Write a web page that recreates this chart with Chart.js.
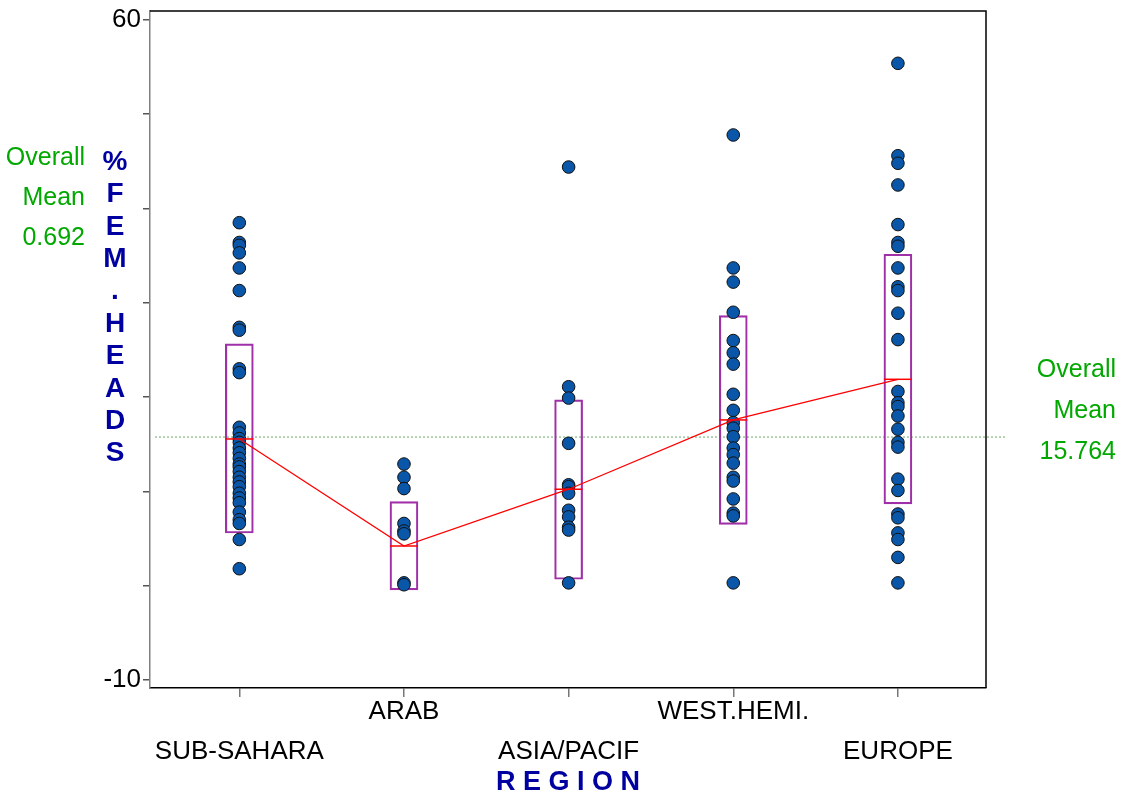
<!DOCTYPE html>
<html>
<head>
<meta charset="utf-8">
<script src="https://cdn.jsdelivr.net/npm/chart.js@4"></script>
<style>
  body { margin: 0; background: #fff; }
  #wrap { width: 1124px; height: 804px; position: relative; }
</style>
</head>
<body>
<div id="wrap"><canvas id="regionChart"></canvas></div>
<script>
// categories (staggered labels: lower row / upper row)
const regions = ['SUB-SAHARA', 'ARAB', 'ASIA/PACIF', 'WEST.HEMI.', 'EUROPE'];
const upperRow = [false, true, false, true, false];

// % female heads per country
const subSahara = [38.5, 36.4, 36.1, 35.3, 33.7, 31.3, 27.4, 27.1, 23.0, 22.6, 16.8, 16.2, 15.6, 15.2,
    14.6, 14.1, 13.5, 12.9, 12.6, 12.1, 11.5, 11.0, 10.5, 9.8, 9.3, 8.8, 7.8, 7.0, 6.6, 4.9, 1.8];
const arab = [12.9, 11.5, 10.3, 6.6, 5.8, 5.5, 0.3, 0.1];
const asiaPacif = [44.4, 21.1, 19.9, 15.1, 10.7, 10.5, 9.8, 8.0, 7.3, 6.2, 5.9, 0.3];
const westHemi = [47.8, 33.7, 32.2, 29.0, 26.0, 24.7, 23.5, 20.3, 18.6, 17.3, 16.7, 15.8, 14.6,
    13.9, 13.0, 11.5, 11.1, 9.2, 7.7, 7.4, 0.3];
const europe = [55.4, 45.6, 44.8, 42.5, 38.3, 36.4, 36.0, 33.7, 31.7, 31.3, 28.9, 26.1, 20.6, 19.4,
    19.0, 18.0, 16.6, 15.2, 14.7, 11.3, 10.1, 7.6, 7.2, 5.6, 4.9, 3.0, 0.3];
const groups = [subSahara, arab, asiaPacif, westHemi, europe];

// group means and box limits (mean +/- 1 sd)
const groupMeans = [15.56, 4.21, 10.23, 17.58, 21.89];
const boxLow = [5.59, -0.45, 0.68, 6.51, 8.67];
const boxHigh = [25.64, 8.91, 19.7, 28.64, 35.15];

const overallMean = 15.764;
const overallLabel = ['Overall', 'Mean', '15.764'];
const leftLabel = ['Overall', 'Mean', '0.692'];
const yTitle = ['%', 'F', 'E', 'M', '.', 'H', 'E', 'A', 'D', 'S'];
const yTicks = [-10, 0, 10, 20, 30, 40, 50, 60];
const yTickLabels = { '-10': '-10', '60': '60' };

const GREEN = '#00a800';
const NAVY = '#0000a0';
Chart.defaults.font.family = '"Liberation Sans", Arial, sans-serif';

const dots = [];
groups.forEach((vals, i) => vals.forEach(v => dots.push({ x: i, y: v })));

const extras = {
    id: 'extras',
    beforeDatasetsDraw(chart) {
        const { ctx, chartArea, scales } = chart;
        const y = scales.y.getPixelForValue(overallMean);
        ctx.save();
        ctx.strokeStyle = '#6aa86a';
        ctx.lineWidth = 1;
        ctx.setLineDash([2, 2]);
        ctx.beginPath();
        ctx.moveTo(chartArea.left + 5, y);
        ctx.lineTo(chartArea.right + 20, y);
        ctx.stroke();
        ctx.restore();
    },
    afterDraw(chart) {
        const { ctx, chartArea } = chart;
        ctx.save();
        // frame top + right
        ctx.strokeStyle = '#000';
        ctx.lineWidth = 1.5;
        ctx.beginPath();
        ctx.moveTo(chartArea.left, chartArea.top);
        ctx.lineTo(chartArea.right, chartArea.top);
        ctx.lineTo(chartArea.right, chartArea.bottom);
        ctx.stroke();

        // stacked y title
        ctx.fillStyle = NAVY;
        ctx.font = 'bold 28px "Liberation Sans", Arial';
        ctx.textAlign = 'center';
        ctx.textBaseline = 'middle';
        yTitle.forEach((ch, i) => ctx.fillText(ch, 115, 162 + i * 32.4));

        // overall mean notes
        ctx.fillStyle = GREEN;
        ctx.font = '25px "Liberation Sans", Arial';
        ctx.textAlign = 'right';
        leftLabel.forEach((t, i) => ctx.fillText(t, 85, 158 + i * 40));
        overallLabel.forEach((t, i) => ctx.fillText(t, 1116, 370 + i * 41));
        ctx.restore();
    }
};

new Chart(document.getElementById('regionChart'), {
    type: 'scatter',
    data: {
        datasets: [
            {
                type: 'line',
                data: groupMeans.map((m, i) => ({ x: i, y: m })),
                borderColor: '#ff0000',
                borderWidth: 1.3,
                pointStyle: 'line',
                pointRadius: 14,
                pointBorderColor: '#ff0000',
                pointBorderWidth: 1.5,
                tension: 0,
                order: 1
            },
            {
                data: dots,
                backgroundColor: '#0a56a8',
                borderColor: '#111',
                borderWidth: 1,
                pointRadius: 6.3,
                order: 2
            },
            {
                type: 'bar',
                data: boxLow.map((lo, i) => ({ x: i, y: [lo, boxHigh[i]] })),
                backgroundColor: 'rgba(0,0,0,0)',
                borderColor: '#a030a8',
                borderWidth: 1.5,
                borderSkipped: false,
                barThickness: 28,
                grouped: false,
                order: 3
            }
        ]
    },
    options: {
        responsive: true,
        maintainAspectRatio: false,
        animation: false,
        layout: { autoPadding: false, padding: { left: 0, top: 11, right: 138, bottom: 0 } },
        plugins: { legend: { display: false }, tooltip: { enabled: false } },
        scales: {
            x: {
                type: 'linear',
                min: -0.5425,
                max: 4.535,
                offset: false,
                afterBuildTicks: s => { s.ticks = regions.map((r, i) => ({ value: i })); },
                afterFit: s => { s.height = 116; s.paddingLeft = 0; s.paddingRight = 0; },
                ticks: {
                    autoSkip: false,
                    maxRotation: 0,
                    padding: -5,
                    color: '#000',
                    font: { size: 26, lineHeight: '40px' },
                    callback: v => upperRow[v] ? [regions[v]] : ['', regions[v]]
                },
                grid: { offset: false, drawOnChartArea: false, drawTicks: true, tickLength: 9, color: '#777', lineWidth: 1.5 },
                border: { color: '#000', width: 1.5 },
                title: {
                    display: true,
                    text: 'R E G I O N',
                    color: NAVY,
                    font: { size: 27, weight: 'bold' },
                    padding: { top: 5, bottom: 5 }
                }
            },
            y: {
                min: -10.85,
                max: 60.95,
                afterBuildTicks: s => { s.ticks = yTicks.map(v => ({ value: v })); },
                afterFit: s => { s.width = 150; s.paddingTop = 0; s.paddingBottom = 0; },
                ticks: {
                    padding: 2,
                    color: '#000',
                    font: { size: 26 },
                    callback: v => yTickLabels[String(v)] || ''
                },
                grid: { drawOnChartArea: false, drawTicks: true, tickLength: 7, color: '#555', lineWidth: 1.5 },
                border: { color: '#808080', width: 1.5 }
            }
        }
    },
    plugins: [extras]
});
</script>
</body>
</html>
